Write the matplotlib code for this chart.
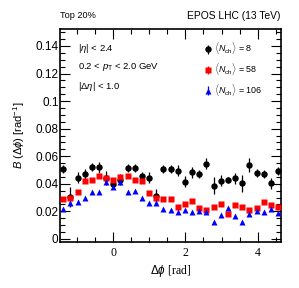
import matplotlib
matplotlib.use("Agg")
import matplotlib.pyplot as plt
from matplotlib.ticker import MultipleLocator

# bin centres in delta phi [rad]
dphi = [-1.39, -1.19, -0.99, -0.79, -0.60, -0.40, -0.20, 0.00, 0.20, 0.40,
        0.60, 0.79, 0.99, 1.19, 1.39, 1.59, 1.79, 1.99, 2.19, 2.38,
        2.58, 2.78, 2.98, 3.18, 3.38, 3.57, 3.77, 3.97, 4.17, 4.37, 4.57]

# <Nch> = 8
b_8 = [0.0508, 0.0305, 0.0445, 0.0469, 0.0520, 0.0520, 0.0440, 0.0395, 0.0430, 0.0513,
       0.0513, 0.0457, 0.0445, 0.0310, 0.0505, 0.0508, 0.0496, 0.0416, 0.0484, 0.0471,
       0.0544, 0.0387, 0.0423, 0.0426, 0.0440, 0.0404, 0.0534, 0.0476, 0.0471, 0.0404, 0.0491]
err_8 = [0.003, 0.007, 0.004, 0.004, 0.003, 0.004, 0.005, 0.003, 0.004, 0.003,
         0.003, 0.003, 0.004, 0.005, 0.003, 0.003, 0.004, 0.004, 0.004, 0.003,
         0.004, 0.006, 0.004, 0.002, 0.004, 0.006, 0.005, 0.003, 0.003, 0.004, 0.003]

# <Nch> = 58
b_58 = [0.0289, 0.0296, 0.0337, 0.0418, 0.0428, 0.0458, 0.0445, 0.0428, 0.0447, 0.0455,
        0.0426, 0.0419, 0.0336, 0.0295, 0.0289, 0.0291, 0.0234, 0.0254, 0.0276, 0.0226,
        0.0208, 0.0234, 0.0254, 0.0184, 0.0243, 0.0230, 0.0208, 0.0221, 0.0270, 0.0249, 0.0231]

# <Nch> = 106
b_106 = [0.0215, 0.0259, 0.0271, 0.0298, 0.0343, 0.0343, 0.0416, 0.0380, 0.0416, 0.0343,
         0.0346, 0.0297, 0.0262, 0.0259, 0.0215, 0.0207, 0.0195, 0.0210, 0.0198, 0.0203,
         0.0196, 0.0124, 0.0173, 0.0221, 0.0168, 0.0120, 0.0181, 0.0200, 0.0197, 0.0216, 0.0186]

labels = [r'$\langle N_{\rm ch}\rangle$ = 8',
          r'$\langle N_{\rm ch}\rangle$ = 58',
          r'$\langle N_{\rm ch}\rangle$ = 106']

plt.rcParams['font.family'] = ['Liberation Sans', 'DejaVu Sans']
plt.rcParams['mathtext.fontset'] = 'custom'
plt.rcParams['mathtext.rm'] = 'Liberation Sans'
plt.rcParams['mathtext.it'] = 'Liberation Sans:italic'

fig = plt.figure(figsize=(2.99, 2.88), dpi=100)
ax = fig.add_axes([0.2007, 0.1608, 0.7381, 0.7395])

ax.errorbar(dphi, b_8, yerr=err_8, fmt='o', color='black', ms=3.6, elinewidth=0.9,
            capsize=0, label=labels[0], zorder=3)
ax.errorbar(dphi, b_58, yerr=[0.0008] * len(b_58), fmt='s', color='#ff0000', ms=4.4,
            elinewidth=0.9, capsize=0, mec='none', label=labels[1], zorder=4)
ax.errorbar(dphi, b_106, yerr=[0.0008] * len(b_106), fmt='^', color='#0000ff', ms=3.8,
            elinewidth=0.9, capsize=0, mec='none', label=labels[2], zorder=5)

ax.set_xlim(-1.476, 4.64)
ax.set_ylim(-0.002, 0.1525)

ax.xaxis.set_major_locator(MultipleLocator(2))
ax.xaxis.set_minor_locator(MultipleLocator(0.5))
ax.yaxis.set_major_locator(MultipleLocator(0.02))
ax.yaxis.set_minor_locator(MultipleLocator(0.005))
ax.tick_params(which='both', direction='in', top=True, right=True, width=0.8)
ax.tick_params(which='major', length=7)
ax.tick_params(which='minor', length=3.5)
ax.tick_params(axis='y', labelsize=8.5, pad=1)
ax.tick_params(axis='x', labelsize=8.5, pad=4)
ax.set_yticks([0, 0.02, 0.04, 0.06, 0.08, 0.1, 0.12, 0.14])
ax.set_yticklabels(['0', '0.02', '0.04', '0.06', '0.08', '0.1', '0.12', '0.14'])
for t in ax.get_xticklabels():
    t.set_fontfamily('Liberation Serif')
for s in ax.spines.values():
    s.set_linewidth(1.2)

ax.set_xlabel(r'$\Delta\phi$ [rad]', fontsize=8.5, family='Liberation Serif', labelpad=3)
ax.set_ylabel(r'$B$ $(\Delta\phi)$ [rad$^{-1}$]', fontsize=8, labelpad=6)

ax.text(0.0, 1.06, 'Top 20%', transform=ax.transAxes, fontsize=6.6, ha='left', va='center')
ax.text(1.0, 1.06, 'EPOS LHC (13 TeV)', transform=ax.transAxes, fontsize=7.4,
        ha='right', va='center')
ax.text(0.08, 0.909, r'$|\eta|$ < 2.4', transform=ax.transAxes, fontsize=6.8, va='center')
ax.text(0.08, 0.820, r'0.2 < $p_{\rm T}$ < 2.0 GeV', transform=ax.transAxes, fontsize=6.8,
        va='center')
ax.text(0.08, 0.731, r'$|\Delta\eta|$ < 1.0', transform=ax.transAxes, fontsize=6.8, va='center')

ax.legend(loc='upper right', bbox_to_anchor=(0.945, 0.975), frameon=False, fontsize=6.4,
          handletextpad=0.1, handlelength=1.2, labelspacing=0.55, borderpad=0.2)

fig.savefig('out.png', dpi=100)
